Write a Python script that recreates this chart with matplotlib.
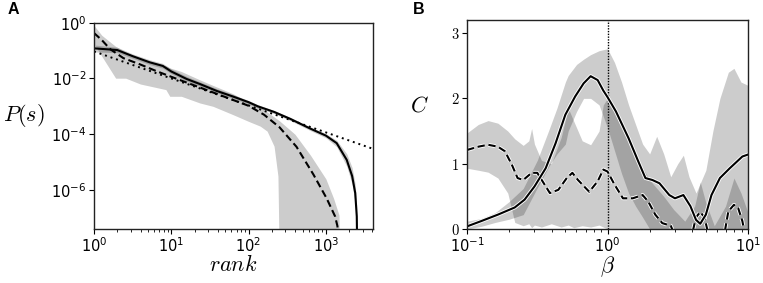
import numpy as np
import matplotlib
matplotlib.use('Agg')
import matplotlib.pyplot as plt
from matplotlib import patheffects as pe
from matplotlib.ticker import FixedLocator, NullLocator, LogLocator, NullFormatter, LogFormatterMathtext, FixedFormatter

plt.rcParams['mathtext.fontset'] = 'cm'
plt.rcParams['font.family'] = ['DejaVu Sans']

# ---------------- Panel A data (log10 values) ----------------
a_solid_lx = [0, 0.3, 0.5, 0.72, 0.89, 1.0, 1.2, 1.37, 1.59, 1.8, 2.0, 2.12, 2.33, 2.54, 2.8, 3.0, 3.14, 3.27, 3.34, 3.38, 3.40, 3.41]
a_solid_ly = [-0.92, -0.98, -1.2, -1.42, -1.55, -1.75, -2.02, -2.2, -2.45, -2.65, -2.85, -3.0, -3.2, -3.45, -3.8, -4.05, -4.32, -4.92, -5.5, -6.11, -6.95, -9]
a_solid_band_hi = [-0.8, -0.88, -1.12, -1.33, -1.46, -1.66, -1.93, -2.12, -2.37, -2.58, -2.79, -2.94, -3.15, -3.4, -3.74, -3.98, -4.22, -4.7, -5.2, -5.8, -6.6, -9]
a_solid_band_lo = [-1.05, -1.07, -1.28, -1.5, -1.63, -1.83, -2.1, -2.28, -2.52, -2.72, -2.91, -3.06, -3.26, -3.51, -3.87, -4.13, -4.45, -5.15, -5.8, -6.5, -7.4, -9]

a_dash_lx = [0, 0.1, 0.21, 0.38, 0.6, 0.81, 1.0, 1.24, 1.5, 1.74, 2.0, 2.2, 2.4, 2.62, 2.84, 3.01, 3.12, 3.15, 3.16]
a_dash_ly = [-0.37, -0.62, -0.95, -1.27, -1.5, -1.74, -1.94, -2.19, -2.46, -2.71, -2.98, -3.3, -3.75, -4.45, -5.45, -6.3, -6.95, -7.3, -9]

a_band_lx = [0, 0.1, 0.28, 0.41, 0.6, 0.93, 0.98, 1.13, 1.37, 1.54, 1.8, 2.0, 2.15, 2.24, 2.33, 2.38, 2.40, 2.6, 2.8, 3.0, 3.1, 3.17, 3.18]
a_band_hi = [-0.1, -0.45, -0.85, -1.05, -1.3, -1.55, -1.62, -1.75, -2.05, -2.25, -2.55, -2.85, -3.05, -3.2, -3.38, -3.48, -3.52, -4.0, -4.75, -5.6, -6.3, -6.9, -9]
a_band_lo = [-0.75, -1.2, -1.99, -1.99, -2.2, -2.40, -2.64, -2.64, -2.88, -3.0, -3.3, -3.54, -3.71, -3.89, -4.43, -5.5, -9, -9, -9, -9, -9, -9, -9]

a_fit_x = [1, 4200]
a_fit_y = [0.093, 2.9e-5]

# ---------------- Panel B data ----------------
b_solid_lx = [-1.0, -0.90, -0.78, -0.66, -0.59, -0.52, -0.44, -0.37, -0.30, -0.23, -0.17, -0.12, -0.07, -0.03, 0.0,
              0.06, 0.15, 0.22, 0.27, 0.32, 0.37, 0.44, 0.48, 0.54, 0.59, 0.63, 0.66, 0.70, 0.74, 0.80, 0.87, 0.96, 1.0]
b_solid_c = [0.04, 0.12, 0.22, 0.33, 0.45, 0.65, 0.93, 1.31, 1.75, 2.03, 2.23, 2.34, 2.28, 2.12, 2.02,
             1.80, 1.39, 1.03, 0.78, 0.75, 0.70, 0.52, 0.47, 0.52, 0.35, 0.14, 0.08, 0.22, 0.52, 0.78, 0.93, 1.11, 1.14]

b_dash_lx = [-1.0, -0.92, -0.85, -0.78, -0.73, -0.68, -0.64, -0.60, -0.54, -0.50, -0.41, -0.35, -0.29, -0.25, -0.21, -0.13,
             -0.07, -0.03, 0.0, 0.05, 0.11, 0.18, 0.25, 0.29, 0.34, 0.39, 0.45, 0.48, 0.60, 0.63, 0.66, 0.69, 0.72,
             0.83, 0.86, 0.90, 0.93, 0.96, 0.98]
b_dash_c = [1.21, 1.26, 1.29, 1.26, 1.19, 0.98, 0.78, 0.75, 0.86, 0.86, 0.55, 0.60, 0.78, 0.86, 0.75, 0.57,
            0.73, 0.91, 0.88, 0.68, 0.47, 0.47, 0.52, 0.42, 0.22, 0.09, 0.05, -0.1, -0.1, 0.18, 0.26, 0.18, -0.1,
            -0.1, 0.27, 0.37, 0.32, 0.12, -0.1]

b_dband_lx = [-1.0, -0.92, -0.85, -0.78, -0.71, -0.66, -0.60, -0.56, -0.54, -0.52, -0.47, -0.40, -0.33, -0.28, -0.24,
              -0.18, -0.12, -0.06, -0.03, 0.0, 0.05, 0.15, 0.22, 0.30, 0.40, 0.47, 0.55, 0.62, 0.66, 0.70, 0.76,
              0.84, 0.90, 0.95, 1.0]
b_dband_lo = [0.93, 0.90, 0.87, 0.78, 0.55, 0.10, 0.05, 0.08, 0.02, 0.06, 0.03, 0.08, 0.03, 0.06, 0.02,
              0.05, 0.03, 0.06, 0.03, 0.0, 0.0, 0.0, 0.0, 0.0, 0.0, 0.0, 0.0, 0.0, 0.0, 0.0, 0.0,
              0.0, 0.0, 0.0, 0.0]
b_dband_hi = [1.47, 1.60, 1.66, 1.62, 1.50, 1.38, 1.28, 1.35, 1.54, 1.30, 1.05, 1.00, 1.40, 1.85, 1.65,
              1.35, 1.29, 1.50, 1.90, 2.0, 1.85, 1.35, 1.05, 0.75, 0.50, 0.30, 0.12, 0.35, 0.72, 0.40, 0.05,
              0.35, 0.78, 0.55, 0.25]

b_sband_lx = [-1.0, -0.9, -0.8, -0.7, -0.6, -0.5, -0.42, -0.36, -0.30, -0.28, -0.22, -0.17, -0.12, -0.06, 0.0,
              0.05, 0.10, 0.15, 0.20, 0.25, 0.30, 0.35, 0.40, 0.45, 0.50, 0.54, 0.58, 0.63, 0.70, 0.75, 0.80,
              0.86, 0.90, 0.95, 1.0]
b_sband_lo = [0.0, 0.04, 0.10, 0.15, 0.22, 0.63, 0.95, 1.15, 1.30, 1.50, 1.80, 2.0, 2.0, 1.90, 1.55,
              1.20, 0.85, 0.55, 0.35, 0.18, 0.0, 0.0, 0.0, 0.0, 0.0, 0.0, 0.0, 0.0, 0.0, 0.0, 0.0,
              0.0, 0.0, 0.0, 0.0]
b_sband_hi = [0.12, 0.16, 0.25, 0.42, 0.62, 1.05, 1.50, 1.85, 2.25, 2.35, 2.52, 2.60, 2.67, 2.73, 2.76,
              2.55, 2.25, 1.90, 1.60, 1.30, 1.15, 1.42, 1.15, 0.80, 1.00, 1.13, 0.80, 0.55, 0.90, 1.50, 2.00,
              2.40, 2.46, 2.25, 2.20]

# ---------------- Figure ----------------
fig = plt.figure(figsize=(7.63, 2.83), dpi=100)
axA = fig.add_axes([94/763, 1 - 229/283, (373-94)/763, (229-22.7)/283])
axB = fig.add_axes([467/763, 1 - 229/283, (748-467)/763, (229-20)/283])

gray_kw = dict(color='k', alpha=0.2, linewidth=0)
halo = [pe.Stroke(linewidth=2.8, foreground='white'), pe.Normal()]

# Panel A
p = lambda v: 10.0 ** np.asarray(v)
axA.fill_between(p(a_band_lx), p(a_band_lo), p(a_band_hi), **gray_kw)
axA.fill_between(p(a_solid_lx), p(a_solid_band_lo), p(a_solid_band_hi), **gray_kw)
axA.plot(a_fit_x, a_fit_y, color='k', linestyle=(0, (1, 2)), linewidth=1.4)
axA.plot(p(a_dash_lx), p(a_dash_ly), color='k', linestyle=(0, (3.5, 1.8)), linewidth=1.5)
axA.plot(p(a_solid_lx), p(a_solid_ly), color='k', linewidth=1.5)
axA.set_xscale('log')
axA.set_yscale('log')
axA.set_xlim(1, 10 ** 3.61)
axA.set_ylim(10 ** -7.4, 1)
axA.xaxis.set_major_locator(FixedLocator([1, 10, 100, 1000]))
axA.xaxis.set_major_formatter(LogFormatterMathtext())
axA.xaxis.set_minor_locator(LogLocator(base=10, subs=np.arange(2, 10), numticks=20))
axA.xaxis.set_minor_formatter(NullFormatter())
axA.yaxis.set_major_locator(FixedLocator([1, 1e-2, 1e-4, 1e-6]))
axA.yaxis.set_major_formatter(LogFormatterMathtext())
axA.yaxis.set_minor_locator(NullLocator())
axA.set_xlabel('$rank$', fontsize=16)
axA.set_ylabel('$P(s)$', fontsize=16, rotation=0, va='center', ha='center')
axA.yaxis.set_label_coords(-0.25, 0.55)
axA.xaxis.set_label_coords(0.5, -0.12)

# Panel B
q = lambda v: 10.0 ** np.asarray(v)
axB.fill_between(q(b_dband_lx), b_dband_lo, b_dband_hi, **gray_kw)
axB.fill_between(q(b_sband_lx), b_sband_lo, b_sband_hi, **gray_kw)
axB.axvline(1.0, color='k', linestyle=(0, (1, 1)), linewidth=1.0)
axB.plot(q(b_dash_lx), b_dash_c, color='k', linestyle=(0, (3.5, 1.8)), linewidth=1.5, path_effects=halo)
axB.plot(q(b_solid_lx), b_solid_c, color='k', linewidth=1.5, path_effects=halo)
axB.set_xscale('log')
axB.set_xlim(0.1, 10)
axB.set_ylim(0, 3.2)
axB.xaxis.set_major_locator(FixedLocator([0.1, 1, 10]))
axB.xaxis.set_major_formatter(LogFormatterMathtext())
axB.xaxis.set_minor_locator(LogLocator(base=10, subs=np.arange(2, 10), numticks=20))
axB.xaxis.set_minor_formatter(NullFormatter())
axB.yaxis.set_major_locator(FixedLocator([0, 1, 2, 3]))
axB.yaxis.set_major_formatter(FixedFormatter(['$0$', '$1$', '$2$', '$3$']))
axB.set_xlabel(r'$\beta$', fontsize=16)
axB.set_ylabel('$C$', fontsize=16, rotation=0, va='center', ha='center')
axB.yaxis.set_label_coords(-0.17, 0.59)
axB.xaxis.set_label_coords(0.5, -0.12)

for ax in (axA, axB):
    ax.tick_params(which='major', direction='out', length=3.5, width=0.8, labelsize=10.5, pad=2)
    ax.tick_params(which='minor', direction='out', length=2, width=0.6)
    for s in ax.spines.values():
        s.set_linewidth(1.0)
        s.set_color('#222222')

fig.text(8/763, 1 - 10/283, 'A', fontsize=11.5, fontweight='bold', family='Liberation Sans', va='center', ha='left')
fig.text(413/763, 1 - 10/283, 'B', fontsize=11.5, fontweight='bold', family='Liberation Sans', va='center', ha='left')

fig.savefig('out.png', dpi=100)
